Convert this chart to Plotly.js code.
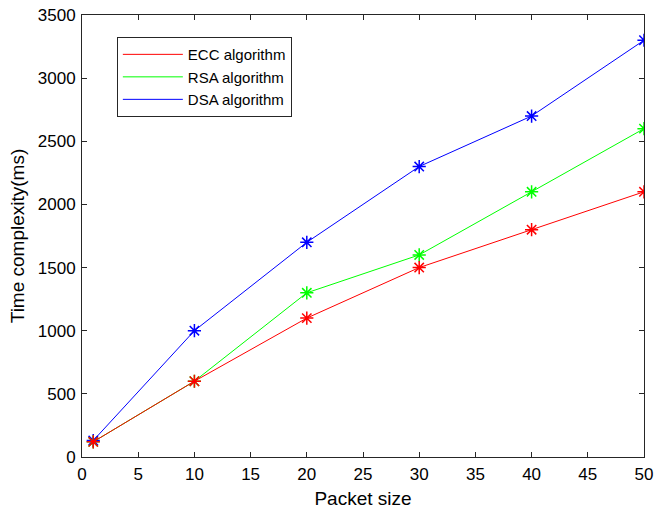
<!DOCTYPE html>
<html><head><meta charset="utf-8">
<script src="https://cdn.plot.ly/plotly-3.0.1.min.js"></script>
<style>body{margin:0;background:#fff}#c{width:662px;height:511px}</style>
</head><body><div id="c"></div>
<script>
var packetSize = [1, 10, 20, 30, 40, 50];
var eccValues = [120, 600, 1100, 1500, 1800, 2100];
var rsaValues = [120, 600, 1300, 1600, 2100, 2600];
var dsaValues = [130, 1000, 1700, 2300, 2700, 3300];
var seriesNames = ['ECC algorithm', 'RSA algorithm', 'DSA algorithm'];
var xTicks = [0, 5, 10, 15, 20, 25, 30, 35, 40, 45, 50];
var yTicks = [0, 500, 1000, 1500, 2000, 2500, 3000, 3500];
var FONT = 'Arial, "Liberation Sans", sans-serif';

function tr(name, y, color) {
  return {x: packetSize, y: y, name: name, type: 'scatter', mode: 'lines+markers',
    showlegend: false,
    line: {color: color, width: 1},
    marker: {symbol: 'asterisk-open', size: 11, color: color, line: {color: color, width: 1.5}}};
}
function leg(name, color, rank) {
  return {x: [null], y: [null], name: name, type: 'scatter', mode: 'lines',
    line: {color: color, width: 1}, legendrank: rank};
}
var data = [
  tr(seriesNames[2], dsaValues, '#0000ff'),
  tr(seriesNames[1], rsaValues, '#00ff00'),
  tr(seriesNames[0], eccValues, '#ff0000'),
  leg(seriesNames[0], '#ff0000', 1),
  leg(seriesNames[1], '#00ff00', 2),
  leg(seriesNames[2], '#0000ff', 3)
];
var axisCommon = {showgrid: false, zeroline: false, showline: true, mirror: 'ticks',
  linecolor: '#262626', linewidth: 1, ticks: 'inside', ticklen: 5, tickcolor: '#262626',
  tickfont: {family: FONT, size: 17, color: '#000'}};
var layout = {
  width: 662, height: 511,
  margin: {l: 82, r: 18, t: 15, b: 54},
  paper_bgcolor: '#fff', plot_bgcolor: '#fff',
  showlegend: true,
  legend: {x: 0.062, y: 0.95, xanchor: 'left', yanchor: 'top', bgcolor: '#fff',
    bordercolor: '#262626', borderwidth: 1, tracegroupgap: 0,
    font: {family: FONT, size: 15, color: '#000'}, itemwidth: 60},
  xaxis: Object.assign({}, axisCommon, {range: [0, 50], tickvals: xTicks, ticklabelstandoff: 2,
    title: {text: 'Packet size', font: {family: FONT, size: 19, color: '#000'}, standoff: 8}}),
  yaxis: Object.assign({}, axisCommon, {range: [0, 3500], tickvals: yTicks, ticklabelstandoff: 2,
    title: {text: 'Time complexity(ms)', font: {family: FONT, size: 19, color: '#000'}, standoff: 8}})
};
Plotly.newPlot('c', data, layout, {displayModeBar: false, staticPlot: true});
</script></body></html>
